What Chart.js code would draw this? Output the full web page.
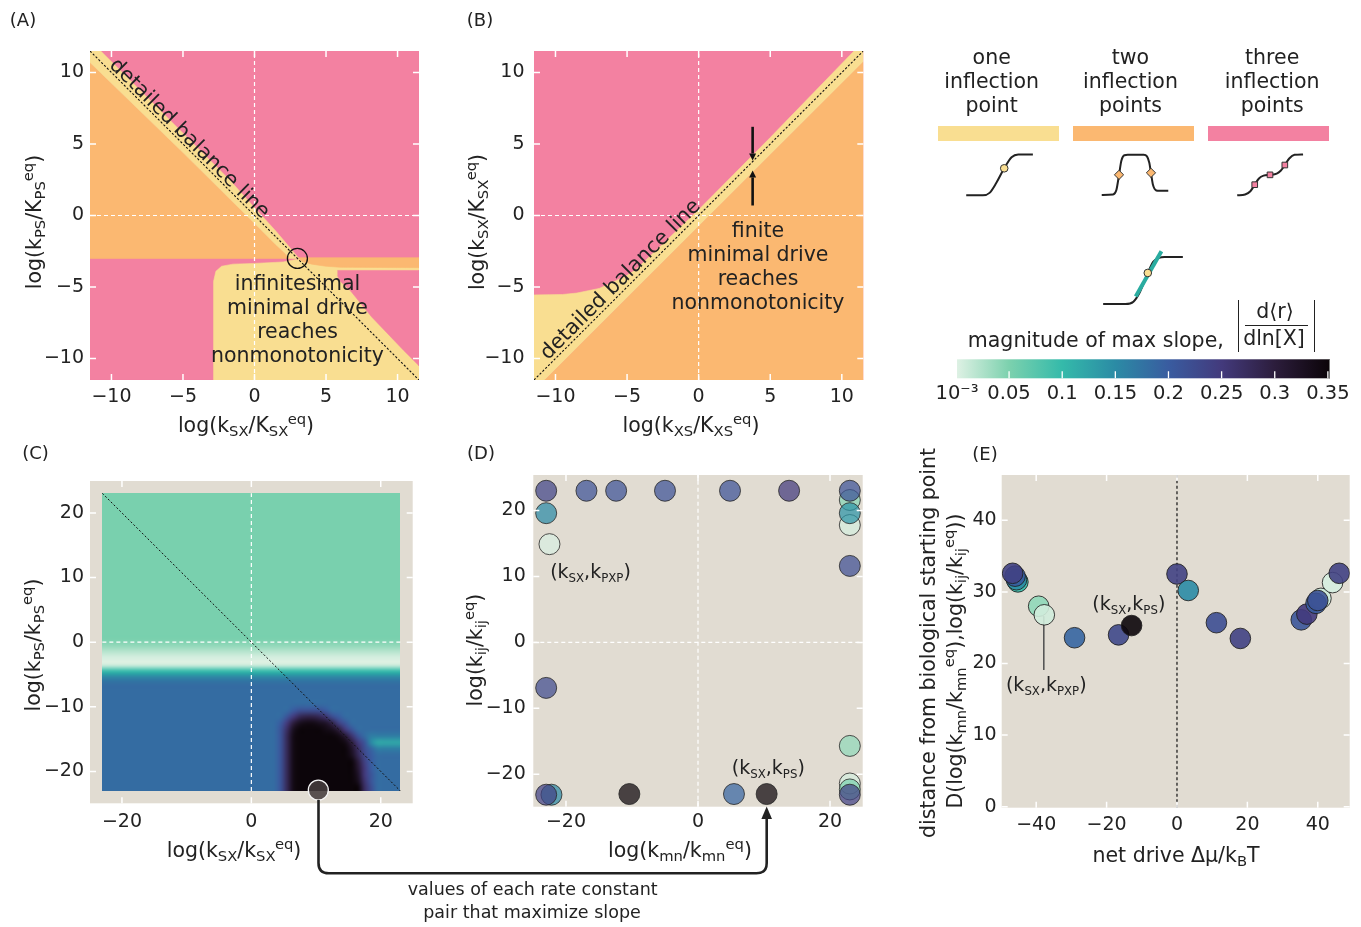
<!DOCTYPE html>
<html>
<head>
<meta charset="utf-8">
<title>Inflection regimes and maximal slope</title>
<script src="https://cdn.jsdelivr.net/npm/chart.js@4.4.1/dist/chart.umd.min.js"></script>
<style>
html,body{margin:0;padding:0;background:#fff;}
body{position:relative;width:1361px;height:927px;overflow:hidden;font-family:'DejaVu Sans',sans-serif;color:#222;}
canvas{position:absolute;}
.t{position:absolute;white-space:nowrap;line-height:1;transform:translate(-50%,-50%);font-size:20.5px;}
.r{transform:translate(-50%,-50%) rotate(-90deg);}
.t sub,.t sup{font-size:0.72em;line-height:0;position:relative;vertical-align:baseline;}
.t sub{top:0.3em;}
.t sup{top:-0.55em;}
.pl{font-size:18px;}
.blk{text-align:center;line-height:24px;}
.ann{font-size:19px;}
.ann sub{font-size:0.62em;top:0.35em;}
.sw{position:absolute;}
.bar{position:absolute;background:#222;}
svg{position:absolute;left:0;top:0;}
</style>
</head>
<body>
<canvas id="cA"></canvas>
<canvas id="cB"></canvas>
<canvas id="cC"></canvas>
<canvas id="cD"></canvas>
<canvas id="cE"></canvas>
<canvas id="cBar"></canvas>
<canvas id="g1"></canvas>
<canvas id="g2"></canvas>
<canvas id="g3"></canvas>
<canvas id="g4"></canvas>

<svg width="1361" height="927" viewBox="0 0 1361 927">
  <path d="M318.5 800 L318.5 863 Q318.5 873.3 328.8 873.3 L756.4 873.3 Q766.7 873.3 766.7 863 L766.7 817" fill="none" stroke="#222" stroke-width="2.6"/>
  <polygon points="766.7,806.5 761.4,819 772,819" fill="#222"/>
</svg>

<div class="t pl" style="left:23px;top:20px">(A)</div>
<div class="t pl" style="left:480px;top:20px">(B)</div>
<div class="t pl" style="left:35.5px;top:453px">(C)</div>
<div class="t pl" style="left:481px;top:453px">(D)</div>
<div class="t pl" style="left:985px;top:454px">(E)</div>

<div class="t" style="left:246px;top:425px">log(k<sub>SX</sub>/K<sub>SX</sub><sup>eq</sup>)</div>
<div class="t r" style="left:34px;top:222px">log(k<sub>PS</sub>/K<sub>PS</sub><sup>eq</sup>)</div>
<div class="t" style="left:691px;top:425px">log(k<sub>XS</sub>/K<sub>XS</sub><sup>eq</sup>)</div>
<div class="t r" style="left:477px;top:222px">log(k<sub>SX</sub>/K<sub>SX</sub><sup>eq</sup>)</div>
<div class="t" style="left:234px;top:850px">log(k<sub>SX</sub>/k<sub>SX</sub><sup>eq</sup>)</div>
<div class="t r" style="left:33px;top:645px">log(k<sub>PS</sub>/k<sub>PS</sub><sup>eq</sup>)</div>
<div class="t" style="left:680px;top:850px">log(k<sub>mn</sub>/k<sub>mn</sub><sup>eq</sup>)</div>
<div class="t r" style="left:475px;top:650px">log(k<sub>ij</sub>/k<sub>ij</sub><sup>eq</sup>)</div>
<div class="t" style="left:1176px;top:855px">net drive Δμ/k<sub>B</sub>T</div>
<div class="t r" style="left:928px;top:643px">distance from biological starting point</div>
<div class="t r" style="left:955px;top:661px">D(log(k<sub>mn</sub>/k<sub>mn</sub><sup>eq</sup>),log(k<sub>ij</sub>/k<sub>ij</sub><sup>eq</sup>))</div>

<div class="t blk" style="left:297.5px;top:320.3px;line-height:23.8px">infinitesimal<br>minimal drive<br>reaches<br>nonmonotonicity</div>
<div class="t blk" style="left:758px;top:266.5px;line-height:24.3px">finite<br>minimal drive<br>reaches<br>nonmonotonicity</div>
<div class="t" style="left:190px;top:137.5px;transform:translate(-50%,-50%) rotate(45deg);font-size:20.8px">detailed balance line</div>
<div class="t" style="left:620px;top:279px;transform:translate(-50%,-50%) rotate(-45deg);font-size:20.8px">detailed balance line</div>

<div class="t blk" style="left:991.7px;top:82.2px;line-height:23.9px">one<br>inflection<br>point</div>
<div class="t blk" style="left:1130.5px;top:82.2px;line-height:23.9px">two<br>inflection<br>points</div>
<div class="t blk" style="left:1272.2px;top:82.2px;line-height:23.9px">three<br>inflection<br>points</div>
<div class="sw" style="left:938px;top:126px;width:121px;height:15px;background:#F9DE91"></div>
<div class="sw" style="left:1073px;top:126px;width:121px;height:15px;background:#FBB871"></div>
<div class="sw" style="left:1208px;top:126px;width:121px;height:15px;background:#F381A1"></div>

<div class="t" style="left:1095.8px;top:340px">magnitude of max slope,</div>
<div class="t" style="left:1275px;top:311px">d⟨r⟩</div>
<div class="t" style="left:1274px;top:338px">dln[X]</div>
<div class="bar" style="left:1245px;top:324.5px;width:63px;height:1.3px"></div>
<div class="bar" style="left:1237.5px;top:300px;width:1.4px;height:52px"></div>
<div class="bar" style="left:1313.5px;top:300px;width:1.4px;height:52px"></div>

<div class="t ann" style="left:590.5px;top:571px">(k<sub>SX</sub>,k<sub>PXP</sub>)</div>
<div class="t ann" style="left:768.3px;top:767px">(k<sub>SX</sub>,k<sub>PS</sub>)</div>
<div class="t ann" style="left:1128.8px;top:603px">(k<sub>SX</sub>,k<sub>PS</sub>)</div>
<div class="t ann" style="left:1046.3px;top:684px">(k<sub>SX</sub>,k<sub>PXP</sub>)</div>
<div class="t" style="left:532.7px;top:890px;font-size:17.5px">values of each rate constant</div>
<div class="t" style="left:532px;top:913px;font-size:17.5px">pair that maximize slope</div>

<script>
// ================= DATA =================
// Panels A and B: axis range and ticks
const abTicks = [-10, -5, 0, 5, 10];
const abMin = -11.5, abMax = 11.5;

// Panel A region boundaries (data coordinates)
const aPinkBg = [[-11.5,-11.5],[11.5,-11.5],[11.5,11.5],[-11.5,11.5]];
const aYellowLower = [[-2.86,-11.5],[-2.86,-4.6],[-2.7,-3.9],[-2.3,-3.55],[-1.5,-3.4],[0,-3.35],[2,-3.25],[3,-3.05],[11.5,-3.05],[11.5,-11.5]];
const aPinkLowerRight = [[5.8,-3.84],[11.5,-3.84],[11.5,-10.5],[10.4,-9.4],[8.2,-7.1],[6.7,-5.25],[6.0,-4.6],[5.8,-4.2]];
const aOrangeStrip = [[3,-2.95],[11.5,-2.95],[11.5,-3.65],[6,-3.62],[5,-3.55],[4,-3.4],[3.3,-3.2]];
const aOrangeUpper = [[-11.5,-3],[2.45,-3],[2.1,-2.6],[1.5,-2.05],[0,-0.55],[-5,4.4],[-11.5,10.7]];
const aYellowBand = [[-11.5,11.5],[-10.75,11.5],[-5,5.75],[-1.7,2.44],[0,0.55],[1.5,-1.1],[2.6,-2.4],[3.1,-3],[2.45,-3],[2.1,-2.6],[1.5,-2.05],[0,-0.55],[-5,4.4],[-11.5,10.7]];
const aMarked = [[3,-3]];
const abZeroV = [[0,-11.5],[0,11.5]];
const abZeroH = [[-11.5,0],[11.5,0]];
const aDiag = [[-11.5,11.5],[11.5,-11.5]];

// Panel B region boundaries
const bPinkBg = [[-11.5,-11.5],[11.5,-11.5],[11.5,11.5],[-11.5,11.5]];
const bYellow = [[-11.5,-11.5],[-10.75,-11.5],[11.5,10.75],[11.5,11.5],[10.85,11.5],[5,5.45],[0,0.4],[-4.4,-3.8],[-5.1,-4.25],[-6.95,-5.1],[-8.5,-5.42],[-9.5,-5.52],[-11.5,-5.55]];
const bOrange = [[-10.75,-11.5],[11.5,-11.5],[11.5,10.75]];
const bDiag = [[-11.5,-11.5],[11.5,11.5]];
const bArrowX = [3.77, 3.77];
const bArrowFrom = [6.2, 0.7];
const bArrowTo = [3.85, 3.15];

// Panel C heat map (max slope), bands of rows top (y=23) to bottom (y=-23): [rows, [[columns, slope], ...]]
const cTicksX = [-20, 0, 20];
const cTicksY = [-20, -10, 0, 10, 20];
const cMin = -24.94, cMax = 24.94;
const heatExtent = [-23.03, 23.03];
const heatBands = [
  [23, [[46,0.052]]],
  [1,  [[46,0.040]]],
  [1,  [[46,0.020]]],
  [1,  [[46,0.004]]],
  [1,  [[46,0.006]]],
  [1,  [[46,0.100]]],
  [1,  [[46,0.160]]],
  [4,  [[46,0.183]]],
  [1,  [[29,0.183],[1,0.20],[4,0.215],[1,0.20],[11,0.183]]],
  [1,  [[28,0.183],[1,0.21],[1,0.25],[1,0.28],[2,0.29],[1,0.28],[1,0.26],[1,0.22],[1,0.20],[9,0.183]]],
  [1,  [[27,0.183],[1,0.20],[1,0.25],[1,0.30],[1,0.33],[2,0.34],[1,0.33],[1,0.32],[1,0.29],[1,0.24],[1,0.21],[8,0.183]]],
  [1,  [[27,0.183],[1,0.21],[1,0.27],[1,0.33],[4,0.35],[1,0.34],[1,0.33],[1,0.30],[1,0.25],[1,0.21],[7,0.183]]],
  [1,  [[27,0.183],[1,0.21],[1,0.28],[1,0.34],[6,0.35],[1,0.34],[1,0.31],[1,0.26],[1,0.21],[1,0.183],[5,0.165]]],
  [1,  [[27,0.183],[1,0.21],[1,0.28],[1,0.34],[7,0.35],[1,0.34],[1,0.30],[1,0.25],[1,0.21],[1,0.15],[4,0.12]]],
  [1,  [[27,0.183],[1,0.21],[1,0.28],[1,0.34],[8,0.35],[1,0.32],[1,0.27],[1,0.22],[1,0.19],[4,0.165]]],
  [1,  [[27,0.183],[1,0.21],[1,0.28],[1,0.34],[8,0.35],[1,0.33],[1,0.28],[1,0.23],[1,0.20],[4,0.183]]],
  [1,  [[27,0.183],[1,0.21],[1,0.28],[1,0.34],[9,0.35],[1,0.30],[1,0.24],[1,0.20],[4,0.183]]],
  [1,  [[27,0.183],[1,0.21],[1,0.28],[1,0.34],[9,0.35],[1,0.31],[1,0.25],[1,0.20],[4,0.183]]],
  [1,  [[27,0.183],[1,0.21],[1,0.28],[1,0.34],[9,0.35],[1,0.32],[1,0.25],[1,0.21],[4,0.183]]],
  [1,  [[27,0.183],[1,0.21],[1,0.28],[1,0.34],[9,0.35],[1,0.33],[1,0.26],[1,0.21],[4,0.183]]],
  [1,  [[27,0.183],[1,0.21],[1,0.28],[1,0.34],[10,0.35],[1,0.27],[1,0.22],[4,0.183]]]
];
const cZeroV = [[0,-23.03],[0,23.03]];
const cZeroH = [[-23.03,0],[23.03,0]];
const cDiag = [[-23.03,23.03],[23.03,-23.03]];
const cOptimum = [[10.35,-22.9]];

// Panel D: optimal pairs
const dTicksX = [-20, 0, 20];
const dTicksY = [-20, -10, 0, 10, 20];
const dXRange = [-24.95, 24.95], dYRange = [-24.92, 25.39];
const dX = [-23, -23, -22.5, -16.9, -12.4, -5, 4.85, 13.8, 23, 23, 23, 23, 23, -23, 23, 23, 23, 23, -22.2, -23, -10.4, 5.45, 10.4];
const dY = [23, 19.6, 14.9, 23, 23, 23, 23, 23, 17.8, 21.6, 19.6, 23, 11.6, -6.9, -15.7, -21.4, -22.3, -23.1, -23.1, -23.1, -23, -23, -23];
const dSlope = [0.235, 0.15, 0.004, 0.215, 0.215, 0.215, 0.215, 0.25, 0.006, 0.045, 0.14, 0.215, 0.22, 0.225, 0.04, 0.006, 0.05, 0.24, 0.15, 0.24, 0.35, 0.19, 0.35];

// Panel E: distance vs net drive
const eTicksX = [-40, -20, 0, 20, 40];
const eTicksY = [0, 10, 20, 30, 40];
const eXRange = [-49.8, 49.07], eYRange = [-0.14, 46.33];
const eX = [-45.2, -45.6, -46.0, -46.7, -39.3, -37.7, -29.1, -16.6, -12.9, 0, 3.2, 11.2, 18.0, 40.9, 44.2, 35.3, 36.9, 39.5, 40.0, 46.1];
const eY = [31.4, 31.7, 32.2, 32.6, 28.0, 26.8, 23.6, 24.0, 25.3, 32.5, 30.2, 25.7, 23.5, 29.1, 31.3, 26.1, 26.9, 28.4, 28.8, 32.6];
const eSlope = [0.1, 0.15, 0.2, 0.24, 0.04, 0.008, 0.19, 0.23, 0.35, 0.24, 0.15, 0.22, 0.24, 0.01, 0.005, 0.21, 0.25, 0.2, 0.215, 0.24];
const eZero = [[0,-0.14],[0,46.33]];
const eLeader = [[-37.85,26.6],[-37.85,19.1]];

// Colour bar
const cbarRange = [0.001, 0.352];
const cbarTicks = [0.001, 0.05, 0.1, 0.15, 0.2, 0.25, 0.3, 0.35];
const cbarLabels = ['10\u207B\u00B3', '0.05', '0.1', '0.15', '0.2', '0.25', '0.3', '0.35'];
const cbarInnerTicks = [0.05, 0.1, 0.15, 0.2, 0.25, 0.3, 0.35];
const cmapStops = [
  [0.001, 222,241,228],
  [0.05, 124,209,174],
  [0.1, 52,186,170],
  [0.15, 43,139,165],
  [0.2, 57,92,160],
  [0.25, 67,58,124],
  [0.3, 44,29,60],
  [0.352, 11,4,8]
];

// Schematic legend curves (x in 0..10, y in 0..1)
const glyphOne = [[0,0],[2.5,0],[3.5,0.06],[4.5,0.3],[5.7,0.66],[6.8,0.93],[7.8,1],[10,1]];
const glyphOneMark = [[5.7,0.66]];
const glyphTwo = [[0,0],[1.7,0.01],[2.2,0.12],[2.6,0.5],[2.95,0.85],[3.4,0.99],[3.9,1],[6.3,1],[6.8,0.96],[7.15,0.8],[7.4,0.55],[7.7,0.25],[8.2,0.11],[8.7,0.1],[10,0.1]];
const glyphTwoMark = [[2.6,0.5],[7.4,0.55]];
const glyphThree = [[0,0],[1.2,0.02],[2.0,0.1],[2.66,0.26],[3.3,0.41],[4.0,0.48],[4.98,0.5],[6.0,0.53],[6.6,0.6],[7.23,0.74],[7.9,0.9],[8.7,0.99],[10,1]];
const glyphThreeMark = [[2.66,0.26],[4.98,0.5],[7.23,0.74]];
const glyphSlope = [[0,0],[2.8,0],[3.8,0.05],[4.6,0.25],[5.6,0.66],[6.3,0.9],[7.0,0.98],[7.7,1],[10,1]];
const glyphSlopeMark = [[5.6,0.66]];
const glyphTangent = [[4.09,0.16],[7.31,1.12]];

// ================= STYLE / HELPERS =================
const cPink = '#F381A1', cOrange = '#FBB871', cYellow = '#F9DE91', cBeige = '#E1DCD2';

Chart.defaults.font.family = "'DejaVu Sans', sans-serif";
Chart.defaults.font.size = 19;
Chart.defaults.color = '#222';
Chart.defaults.animation = false;
Chart.defaults.events = [];
Chart.defaults.plugins.legend.display = false;
Chart.defaults.plugins.tooltip.enabled = false;

const fmt = v => (v < 0 ? '\u2212' : '') + Math.abs(v);
const pts = arr => arr.map(p => ({x: p[0], y: p[1]}));
function cmap(s) {
  const st = cmapStops;
  if (s <= st[0][0]) return st[0].slice(1);
  for (let i = 1; i < st.length; i++) {
    if (s <= st[i][0]) {
      const a = st[i-1], b = st[i], t = (s - a[0]) / (b[0] - a[0]);
      return [a[1]+(b[1]-a[1])*t, a[2]+(b[2]-a[2])*t, a[3]+(b[3]-a[3])*t];
    }
  }
  return st[st.length-1].slice(1);
}
const rgba = (c, a) => `rgba(${Math.round(c[0])},${Math.round(c[1])},${Math.round(c[2])},${a})`;

function axis(o) {
  return {
    type: 'linear', min: o.min, max: o.max, display: true,
    grid: {display: false, drawTicks: false}, border: {display: false},
    afterBuildTicks: s => { s.ticks = o.ticks.map(v => ({value: v})); },
    afterFit: s => { if (s.isHorizontal()) s.height = o.size; else s.width = o.size; },
    ticks: {padding: o.pad, autoSkip: false, maxRotation: 0, minRotation: 0, color: '#222', font: {size: o.font || 19},
      callback: (v, i) => o.labels ? o.labels[i] : fmt(v)}
  };
}
const hidden = (min, max) => ({type: 'linear', min, max, display: false});

function setup(id, box, area, xh) {
  const cv = document.getElementById(id);
  const [L, T, W, H] = box;
  cv.style.left = L + 'px'; cv.style.top = T + 'px'; cv.width = W; cv.height = H;
  return {cv, yw: area[0] - L, pad: {left: 0, top: area[1] - T, right: L + W - area[2], bottom: T + H - area[3] - xh}};
}
const poly = (p, color) => ({data: pts(p), showLine: true, fill: 'shape', backgroundColor: color, borderColor: color, borderWidth: 0.6, pointRadius: 0, tension: 0});
const dline = (p, color, dash, w) => ({data: pts(p), showLine: true, fill: false, borderColor: color, borderWidth: w, borderDash: dash, pointRadius: 0, tension: 0});

// ================= PLUGINS =================
const bgPlugin = {id: 'bg', beforeDraw(ch, a, o) {
  if (!o.color) return; const c = ch.chartArea, ctx = ch.ctx;
  ctx.save(); ctx.fillStyle = o.color; ctx.fillRect(c.left, c.top, c.right - c.left, c.bottom - c.top); ctx.restore();
}};
const tickPlugin = {id: 'inTicks', afterDatasetsDraw(ch, a, o) {
  if (!o.len) return;
  const {ctx, chartArea: c, scales} = ch, xs = scales.x, ys = scales.y;
  const sides = o.sides || ['top', 'bottom', 'left', 'right'];
  ctx.save(); ctx.strokeStyle = o.color || '#fff'; ctx.lineWidth = o.width || 1.5; ctx.beginPath();
  const xv = o.xValues || xs.ticks.map(t => t.value);
  xv.forEach(v => { const p = xs.getPixelForValue(v);
    if (sides.includes('top')) { ctx.moveTo(p, c.top); ctx.lineTo(p, c.top + o.len); }
    if (sides.includes('bottom')) { ctx.moveTo(p, c.bottom); ctx.lineTo(p, c.bottom - o.len); } });
  if (sides.includes('left') || sides.includes('right')) ys.ticks.forEach(t => { const p = ys.getPixelForValue(t.value);
    if (sides.includes('left')) { ctx.moveTo(c.left, p); ctx.lineTo(c.left + o.len, p); }
    if (sides.includes('right')) { ctx.moveTo(c.right, p); ctx.lineTo(c.right - o.len, p); } });
  ctx.stroke(); ctx.restore();
}};
const heatPlugin = {id: 'heat', beforeDatasetsDraw(ch, a, o) {
  if (!o.grid) return;
  const {ctx, scales: {x, y}} = ch, g = o.grid, nr = g.length, nc = g[0].length;
  const off = document.createElement('canvas'); off.width = nc; off.height = nr;
  const octx = off.getContext('2d'), img = octx.createImageData(nc, nr);
  for (let r = 0; r < nr; r++) for (let c = 0; c < nc; c++) {
    const col = cmap(g[r][c]), k = (r * nc + c) * 4;
    img.data[k] = col[0]; img.data[k+1] = col[1]; img.data[k+2] = col[2]; img.data[k+3] = 255;
  }
  octx.putImageData(img, 0, 0);
  const x0 = x.getPixelForValue(o.ext[0]), x1 = x.getPixelForValue(o.ext[1]);
  const y0 = y.getPixelForValue(o.ext[1]), y1 = y.getPixelForValue(o.ext[0]);
  ctx.save(); ctx.imageSmoothingEnabled = true; ctx.imageSmoothingQuality = 'high';
  ctx.drawImage(off, x0, y0, x1 - x0, y1 - y0); ctx.restore();
}};
const cbarPlugin = {id: 'cbar', beforeDatasetsDraw(ch, a, o) {
  if (!o.stops) return;
  const {ctx, chartArea: c, scales: {x}} = ch;
  const gx0 = x.getPixelForValue(x.min), gx1 = x.getPixelForValue(x.max);
  const grad = ctx.createLinearGradient(gx0, 0, gx1, 0);
  o.stops.forEach(s => grad.addColorStop(Math.min(1, Math.max(0, (x.getPixelForValue(s[0]) - gx0) / (gx1 - gx0))), rgba(s.slice(1), 1)));
  ctx.save(); ctx.fillStyle = grad; ctx.fillRect(c.left, c.top, c.right - c.left, c.bottom - c.top);
  ctx.strokeStyle = '#777'; ctx.lineWidth = 1; ctx.beginPath(); ctx.moveTo(c.right - 0.5, c.top); ctx.lineTo(c.right - 0.5, c.bottom); ctx.stroke();
  ctx.restore();
}};
const arrowPlugin = {id: 'arrows', afterDatasetsDraw(ch, a, o) {
  if (!o.x) return;
  const {ctx, scales: {x, y}} = ch;
  ctx.save(); ctx.strokeStyle = '#111'; ctx.fillStyle = '#111'; ctx.lineWidth = 2.6;
  o.x.forEach((xv, i) => {
    const px = x.getPixelForValue(xv), p0 = y.getPixelForValue(o.from[i]), p1 = y.getPixelForValue(o.to[i]);
    const dir = p1 > p0 ? 1 : -1, hl = 7, hw = 3.5;
    ctx.beginPath(); ctx.moveTo(px, p0); ctx.lineTo(px, p1 - dir * hl); ctx.stroke();
    ctx.beginPath(); ctx.moveTo(px, p1); ctx.lineTo(px - hw, p1 - dir * hl); ctx.lineTo(px + hw, p1 - dir * hl); ctx.closePath(); ctx.fill();
  });
  ctx.restore();
}};

// ================= PANEL A =================
{
  const s = setup('cA', [0, 0, 450, 440], [90, 51, 419, 380], 30);
  new Chart(s.cv, {type: 'scatter', data: {datasets: [
    {data: pts(aMarked), showLine: false, pointRadius: 10, pointBackgroundColor: 'rgba(0,0,0,0)', pointBorderColor: '#111', pointBorderWidth: 1.3},
    dline(aDiag, '#111', [2.2, 1.8], 1.1),
    dline(abZeroV, '#fff', [4, 3], 1.2),
    dline(abZeroH, '#fff', [4, 3], 1.2),
    poly(aYellowBand, cYellow),
    poly(aOrangeUpper, cOrange),
    poly(aOrangeStrip, cOrange),
    poly(aPinkLowerRight, cPink),
    poly(aYellowLower, cYellow),
    poly(aPinkBg, cPink)
  ]}, options: {responsive: false, layout: {padding: s.pad},
    scales: {x: axis({min: abMin, max: abMax, ticks: abTicks, size: 30, pad: 5.5}),
             y: axis({min: abMin, max: abMax, ticks: abTicks, size: s.yw, pad: 6})},
    plugins: {inTicks: {len: 6}}}, plugins: [tickPlugin]});
}

// ================= PANEL B =================
{
  const s = setup('cB', [450, 0, 430, 440], [534, 51, 863.3, 380], 30);
  new Chart(s.cv, {type: 'scatter', data: {datasets: [
    dline(bDiag, '#111', [2.2, 1.8], 1.1),
    dline(abZeroV, '#fff', [4, 3], 1.2),
    dline(abZeroH, '#fff', [4, 3], 1.2),
    poly(bOrange, cOrange),
    poly(bYellow, cYellow),
    poly(bPinkBg, cPink)
  ]}, options: {responsive: false, layout: {padding: s.pad},
    scales: {x: axis({min: abMin, max: abMax, ticks: abTicks, size: 30, pad: 5.5}),
             y: axis({min: abMin, max: abMax, ticks: abTicks, size: s.yw, pad: 9.5})},
    plugins: {inTicks: {len: 6}, arrows: {x: bArrowX, from: bArrowFrom, to: bArrowTo}}}, plugins: [tickPlugin, arrowPlugin]});
}

// ================= PANEL C =================
{
  const heatGrid = [];
  heatBands.forEach(([n, runs]) => {
    const row = [];
    runs.forEach(([c, v]) => { for (let i = 0; i < c; i++) row.push(v); });
    for (let k = 0; k < n; k++) heatGrid.push(row);
  });
  const s = setup('cC', [0, 440, 450, 430], [90, 481, 412.7, 803.3], 30);
  new Chart(s.cv, {type: 'scatter', data: {datasets: [
    {data: pts(cOptimum), showLine: false, pointRadius: 10, pointBackgroundColor: 'rgba(70,62,62,0.88)', pointBorderColor: '#f4f4f4', pointBorderWidth: 1.3},
    dline(cDiag, '#111', [2, 2], 1),
    dline(cZeroV, '#fff', [4, 3], 1.2),
    dline(cZeroH, '#fff', [4, 3], 1.2)
  ]}, options: {responsive: false, layout: {padding: s.pad},
    scales: {x: axis({min: cMin, max: cMax, ticks: cTicksX, size: 30, pad: 7}),
             y: axis({min: cMin, max: cMax, ticks: cTicksY, size: s.yw, pad: 6})},
    plugins: {bg: {color: cBeige}, heat: {grid: heatGrid, ext: heatExtent}, inTicks: {len: 6}}},
    plugins: [bgPlugin, heatPlugin, tickPlugin]});
}

// ================= PANEL D =================
{
  const s = setup('cD', [450, 440, 430, 430], [533.3, 475, 862.7, 806.7], 30);
  new Chart(s.cv, {type: 'scatter', data: {datasets: [
    {data: dX.map((x, i) => ({x, y: dY[i]})), showLine: false, pointRadius: 10.5,
     pointBackgroundColor: dSlope.map(v => rgba(cmap(v), 0.72)), pointBorderColor: 'rgba(40,40,40,0.8)', pointBorderWidth: 1},
    dline([[0, dYRange[0]], [0, dYRange[1]]], '#fff', [4, 3], 1.2),
    dline([[dXRange[0], 0], [dXRange[1], 0]], '#fff', [4, 3], 1.2)
  ]}, options: {responsive: false, layout: {padding: s.pad},
    scales: {x: axis({min: dXRange[0], max: dXRange[1], ticks: dTicksX, size: 30, pad: 3.5}),
             y: axis({min: dYRange[0], max: dYRange[1], ticks: dTicksY, size: s.yw, pad: 7.5})},
    plugins: {bg: {color: cBeige}, inTicks: {len: 6}}}, plugins: [bgPlugin, tickPlugin]});
}

// ================= PANEL E =================
{
  const s = setup('cE', [880, 440, 481, 430], [1001.7, 475, 1354, 807.7], 30);
  new Chart(s.cv, {type: 'scatter', data: {datasets: [
    {data: eX.map((x, i) => ({x, y: eY[i]})), showLine: false, pointRadius: 10.3,
     pointBackgroundColor: eSlope.map(v => rgba(cmap(v), 0.9)), pointBorderColor: 'rgba(30,30,30,0.85)', pointBorderWidth: 1},
    dline(eLeader, '#555', [], 1),
    dline(eZero, '#111', [3, 2.5], 1.2)
  ]}, options: {responsive: false, layout: {padding: s.pad},
    scales: {x: axis({min: eXRange[0], max: eXRange[1], ticks: eTicksX, size: 30, pad: 6}),
             y: axis({min: eYRange[0], max: eYRange[1], ticks: eTicksY, size: s.yw, pad: 5})},
    plugins: {bg: {color: cBeige}, inTicks: {len: 6}}}, plugins: [bgPlugin, tickPlugin]});
}

// ================= COLOUR BAR =================
{
  const cv = document.getElementById('cBar');
  cv.style.left = '920px'; cv.style.top = '340px'; cv.width = 441; cv.height = 72;
  new Chart(cv, {type: 'scatter', data: {datasets: []}, options: {responsive: false,
    layout: {padding: {left: 37, right: 31, top: 19.3, bottom: 0}},
    scales: {x: axis({min: cbarRange[0], max: cbarRange[1], ticks: cbarTicks, labels: cbarLabels, size: 33.7, pad: 3.5, font: 19.5}),
             y: hidden(0, 1)},
    plugins: {cbar: {stops: cmapStops}, inTicks: {len: 7, sides: ['bottom'], xValues: cbarInnerTicks, width: 1.3}}},
    plugins: [cbarPlugin, tickPlugin]});
}

// ================= SCHEMATIC CURVES =================
function glyphChart(id, box, map, datasets) {
  const [L, T, W, H] = box, [px0, px10, py0, py1] = map;
  const sx = (px10 - px0) / 10, sy = py0 - py1;
  const cv = document.getElementById(id);
  cv.style.left = L + 'px'; cv.style.top = T + 'px'; cv.width = W; cv.height = H;
  new Chart(cv, {type: 'scatter', data: {datasets}, options: {responsive: false, layout: {padding: 0},
    scales: {x: hidden((L - px0) / sx, (L + W - px0) / sx), y: hidden((py0 - (T + H)) / sy, (py0 - T) / sy)}}});
}
const curve = p => ({data: pts(p), showLine: true, fill: false, borderColor: '#222', borderWidth: 2, pointRadius: 0, cubicInterpolationMode: 'monotone'});
const marks = (p, style, color, r) => ({data: pts(p), showLine: false, pointStyle: style, pointRadius: r, pointBackgroundColor: color, pointBorderColor: '#333', pointBorderWidth: 1});
glyphChart('g1', [955, 140, 90, 68], [962, 1037, 199, 151], [marks(glyphOneMark, 'circle', cYellow, 3.8), curve(glyphOne)]);
glyphChart('g2', [1090, 140, 90, 68], [1097, 1173, 199, 151], [marks(glyphTwoMark, 'rectRot', cOrange, 4.6), curve(glyphTwo)]);
glyphChart('g3', [1226, 140, 88, 68], [1233, 1307.3, 199, 151], [marks(glyphThreeMark, 'rect', cPink, 4), curve(glyphThree)]);
glyphChart('g4', [1090, 238, 106, 78], [1099, 1187, 308, 254], [marks(glyphSlopeMark, 'circle', cYellow, 3.8),
  {data: pts(glyphTangent), showLine: true, fill: false, borderColor: '#2AACA0', borderWidth: 4, pointRadius: 0},
  curve(glyphSlope)]);
</script>
</body>
</html>
